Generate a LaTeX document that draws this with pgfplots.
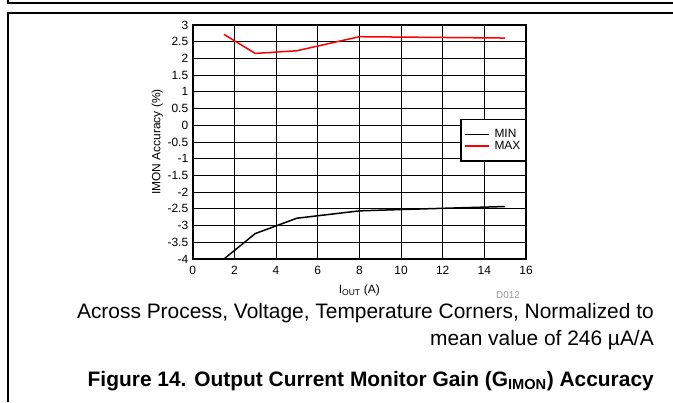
\documentclass[border=0pt]{standalone}
\usepackage{pgfplots}
\pgfplotsset{compat=1.18}
\usepackage{fontspec}
\setmainfont{Liberation Sans}
\begin{document}
\begin{tikzpicture}[x=1bp,y=1bp]
% page frame (pixel coords, y up = 402 - y_px)
\path[use as bounding box] (0,0) rectangle (673,402);
\draw[line width=1.3bp] (8,402) -- (8,399) -- (673,399);
\draw[line width=1.3bp] (8,0) -- (8,389) -- (673,389);
\begin{axis}[
  at={(192.7bp,143bp)}, anchor=south west,
  width=333.3bp, height=234bp, scale only axis,
  xmin=0, xmax=16, ymin=-4, ymax=3,
  xtick={0,2,...,16},
  ytick={-4,-3.5,...,3},
  yticklabels={-4,-3.5,-3,-2.5,-2,-1.5,-1,-0.5,0,0.5,1,1.5,2,2.5,3},
  major tick length=0pt,
  grid=major,
  grid style={black, line width=0.8bp},
  axis line style={line width=1.6bp},
  tick label style={font=\fontsize{12}{12}\selectfont},
  /pgf/number format/assume math mode=true,
  xticklabel style={yshift=-4bp},
  yticklabel style={xshift=-1bp},
  xlabel={I\textsubscript{\fontsize{8.5}{9}\selectfont OUT} (A)},
  ylabel={IMON Accuracy (\%)},
  label style={font=\fontsize{12}{12}\selectfont},
  xlabel style={yshift=-3bp},
  ylabel style={yshift=-2bp},
  legend style={at={(1,0.598)}, anchor=north east, line width=1.2bp,
    font=\fontsize{12}{12}\selectfont, inner xsep=3bp, inner ysep=8bp,
    row sep=-2bp, legend cell align=left,
    /tikz/every odd column/.append style={column sep=3bp}},
  legend image code/.code={\draw[#1] (0bp,0bp) -- (24bp,0bp);},
]
\addplot[black, line width=1.5bp] coordinates {
  (1.5,-4.0) (3,-3.24) (4,-3.01) (5,-2.78) (8,-2.56) (10,-2.52) (15,-2.43)};
\addlegendentry{MIN}
\addplot[red, line width=1.5bp] coordinates {
  (1.5,2.72) (3,2.15) (5,2.23) (8,2.65) (15,2.61)};
\addlegendentry{MAX}
\end{axis}
\node[anchor=base, font=\fontsize{10}{10}\selectfont, text=black!40] at (508,104) {D012};
\node[anchor=base east, font=\fontsize{21}{24}\selectfont, inner sep=0pt] at (654,84) {Across Process, Voltage, Temperature Corners, Normalized to};
\node[anchor=base east, font=\fontsize{21}{24}\selectfont, inner sep=0pt] at (654,57) {mean value of 246 \textmu A/A};
\node[anchor=base east, font=\fontsize{21}{24}\selectfont\bfseries, inner sep=0pt] at (654,16) {Figure 14. Output Current Monitor Gain (G\textsubscript{IMON}) Accuracy};
\end{tikzpicture}
\end{document}
